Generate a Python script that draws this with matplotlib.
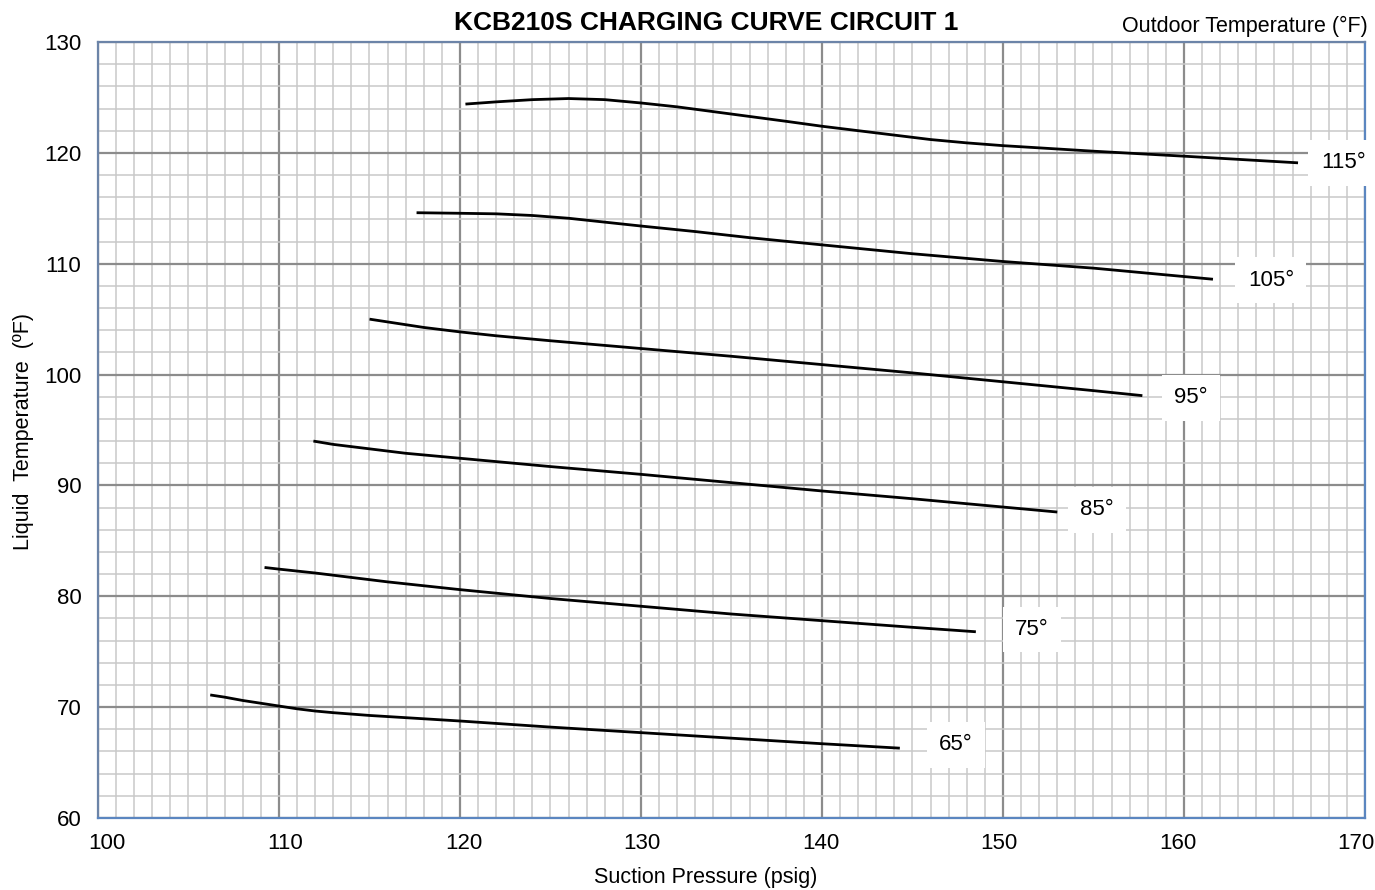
import numpy as np
import matplotlib.pyplot as plt
from matplotlib.ticker import MultipleLocator
from matplotlib.transforms import ScaledTranslation

plt.rcParams['font.family'] = ['Liberation Sans', 'DejaVu Sans']

# outdoor temperature curves: suction pressure (psig) vs liquid temperature (F)
p65 = [106.2, 107, 108, 109, 110, 111, 112, 113, 115, 118, 120, 125, 130, 135, 140, 144.3]
t65 = [71.1, 70.9, 70.6, 70.35, 70.1, 69.85, 69.65, 69.5, 69.25, 68.95, 68.75, 68.2, 67.7, 67.2, 66.7, 66.3]

p75 = [109.2, 110, 112, 114, 116, 118, 120, 125, 130, 135, 140, 145, 148.5]
t75 = [82.6, 82.45, 82.1, 81.7, 81.3, 80.95, 80.6, 79.8, 79.1, 78.4, 77.8, 77.2, 76.8]

p85 = [111.9, 113, 115, 117, 119, 121, 125, 130, 135, 140, 145, 150, 153.0]
t85 = [94.0, 93.7, 93.3, 92.9, 92.6, 92.3, 91.7, 91.0, 90.25, 89.5, 88.8, 88.05, 87.6]

p95 = [115.0, 116, 118, 120, 122, 125, 130, 135, 140, 145, 150, 155, 157.7]
t95 = [105.0, 104.75, 104.25, 103.85, 103.5, 103.05, 102.35, 101.65, 100.9, 100.15, 99.35, 98.55, 98.1]

p105 = [117.6, 120, 122, 124, 126, 128, 130, 133, 136, 140, 145, 150, 155, 161.6]
t105 = [114.6, 114.55, 114.5, 114.35, 114.1, 113.75, 113.4, 112.9, 112.35, 111.7, 110.9, 110.2, 109.6, 108.6]

p115 = [120.3, 122, 124, 126, 128, 130, 132, 135, 138, 140, 142, 144, 146, 148, 150, 152, 155, 160, 166.3]
t115 = [124.4, 124.6, 124.8, 124.9, 124.8, 124.5, 124.15, 123.5, 122.85, 122.4, 122.0, 121.6, 121.2, 120.9, 120.65, 120.45, 120.15, 119.7, 119.1]

curves = [(p65, t65), (p75, t75), (p85, t85), (p95, t95), (p105, t105), (p115, t115)]
labels = ['65°', '75°', '85°', '95°', '105°', '115°']
label_x = [147.4, 151.6, 155.2, 160.4, 164.8, 168.8]
label_y = [66.6, 77.0, 87.8, 97.9, 108.5, 119.1]

xticks = [100, 110, 120, 130, 140, 150, 160, 170]

fig = plt.figure(figsize=(13.75, 8.9), dpi=100)
ax = fig.add_axes([98/1375, 1 - 818/890, (1365-98)/1375, (818-42)/890])

ax.set_xlim(100, 170)
ax.set_ylim(60, 130)
ax.set_xticks(xticks)
ax.yaxis.set_major_locator(MultipleLocator(10))
ax.xaxis.set_minor_locator(MultipleLocator(1))
ax.yaxis.set_minor_locator(MultipleLocator(2))
ax.grid(which='minor', color='#c9c9c9', lw=1.1)
ax.grid(which='major', color='#8c8c8c', lw=1.6)
ax.set_axisbelow(True)
ax.tick_params(which='both', length=0, labelsize=16)
ax.tick_params(axis='y', pad=12)
ax.tick_params(axis='x', pad=11)
for side, s in ax.spines.items():
    s.set_color('#6c84a8' if side in ('top', 'left') else '#5b86c0')
    s.set_linewidth(1.6)

# x tick labels sit a little inside the outer grid lines
for i, lab in enumerate(ax.get_xticklabels()):
    dx = (9 - 2.6 * i) / 100
    lab.set_transform(lab.get_transform() + ScaledTranslation(dx, 0, fig.dpi_scale_trans))

for (p, t), lab, lx, ly in zip(curves, labels, label_x, label_y):
    ax.plot(p, t, color='black', lw=2.0, solid_capstyle='butt', solid_joinstyle='round')
    ax.text(lx, ly, lab, fontsize=16, ha='center', va='center',
            bbox=dict(facecolor='white', edgecolor='none', pad=9), clip_on=False)

fig.text(706/1375, 1 - 877/890, 'Suction Pressure (psig)', fontsize=15.5,
         ha='center', va='center')
fig.text(24/1375, 1 - 432/890, 'Liquid  Temperature  (ºF)', fontsize=15.5,
         ha='center', va='center', rotation=90)
fig.text(706/1375, 1 - 23/890, 'KCB210S CHARGING CURVE CIRCUIT 1', fontsize=19,
         fontweight='bold', ha='center', va='center')
fig.text(1368/1375, 1 - 26/890, 'Outdoor Temperature (°F)', fontsize=15.5,
         ha='right', va='center')

fig.savefig('out.png', dpi=100)
